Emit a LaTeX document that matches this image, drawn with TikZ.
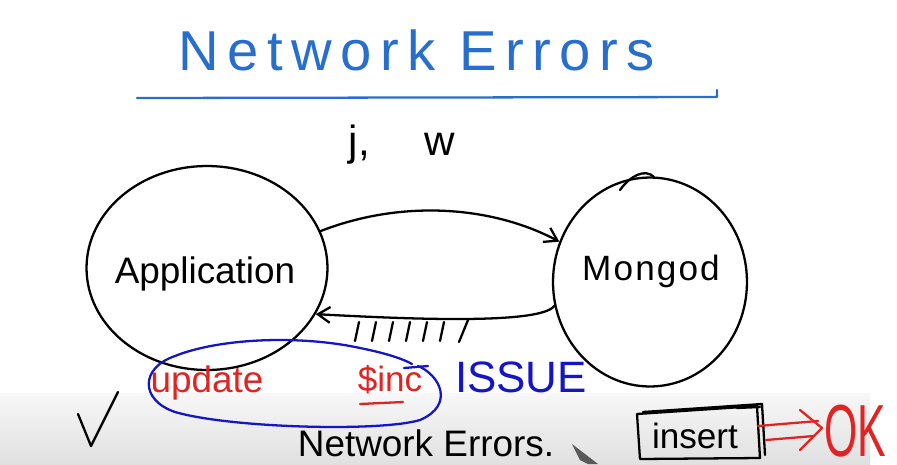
\documentclass[tikz,border=0pt]{standalone}
\usepackage{fontspec}
\setmainfont{Liberation Sans}
\usetikzlibrary{shapes.geometric,arrows.meta}
\definecolor{titleblue}{RGB}{40,110,205}
\definecolor{inkblue}{RGB}{20,20,200}
\definecolor{inkred}{RGB}{225,35,35}
\tikzset{
  ink/.style={line width=1.3pt, line cap=round, line join=round},
  bubble/.style={ellipse, draw, ink, inner sep=0pt},
  hand/.style={inner sep=0pt, anchor=base},
  conn/.style={ink, -{Straight Barb[length=7pt,width=9pt]}},
}
\begin{document}
\begin{tikzpicture}[x=0.02cm,y=-0.02cm]
\useasboundingbox (0,0) rectangle (897,464);
% video overlay band
\shade[top color=gray!6, bottom color=gray!24] (0,393) rectangle (870,464);
% title
\node[hand, text=titleblue, font=\fontsize{32}{36}\selectfont\addfontfeature{LetterSpace=15}] (title) at (417,70) {Network Errors};
\coordinate (ulA) at (137,98);
\coordinate (ulB) at (717,97);
\coordinate (ulC) at (717,90);
\draw[ink, titleblue] (ulA) -- (ulB) -- (ulC);
\node[hand, font=\fontsize{24}{28}\selectfont] (jw) at (402,155) {j,\hspace{1.3em}w};
% nodes
\node[bubble, minimum width=4.82cm, minimum height=4.08cm] (app) at (207,268) {};
\node[hand, font=\fontsize{21}{25}\selectfont] (applabel) at (205,283) {Application};
\node[bubble, minimum width=3.88cm, minimum height=4.18cm] (mongod) at (650,282) {};
\node[hand, font=\fontsize{20}{24}\selectfont\addfontfeature{LetterSpace=6}] (monlabel) at (651,280) {Mongod};
\draw[ink] (620,190) .. controls (630,176) and (645,168) .. (654,177);
% connectors
\draw[conn] (app.18) .. controls (400,200) and (490,205) .. (mongod.156);
\draw[conn] (mongod.194) .. controls (540,326) and (390,318) .. (app.337);
\foreach \hx in {355,372,389,406,423,440} {
  \draw[ink] (\hx,341) -- (\hx+4,322);
}
\draw[ink] (459,342) -- (468,320);
% blue loop
\draw[ink, inkblue] (418,366) .. controls (440,375) and (455,405) .. (420,420)
  .. controls (380,432) and (230,428) .. (175,412)
  .. controls (140,400) and (140,368) .. (175,356)
  .. controls (220,338) and (300,335) .. (360,348)
  .. controls (390,354) and (405,360) .. (412,364);
\draw[ink, inkblue] (404,368) -- (428,366);
\node[hand, text=inkred, font=\fontsize{21}{25}\selectfont] (upd) at (207,392) {update};
\node[hand, text=inkred, font=\fontsize{20}{24}\selectfont] (inc) at (390,391) {\$inc};
\draw[ink, inkred] (360,404) -- (403,402);
\node[hand, text=inkblue, font=\fontsize{25}{30}\selectfont] (issue) at (521,392) {ISSUE};
% check mark
\draw[ink] (78,414) -- (91,446) -- (118,392);
% bottom text
\node[hand, font=\fontsize{21}{25}\selectfont] (neterr) at (426,456) {Network Errors.};
% insert box
\node[hand, font=\fontsize{20}{24}\selectfont] (ins) at (695,448) {insert};
\draw[ink] (637,414) -- (757,406) -- (760,458) -- (640,459) -- cycle;
\draw[ink] (643,412) -- (762,404) -- (765,455);
\draw[ink] (737,408) -- (760,407);
% red arrow to OK
\node[hand, anchor=base west, text=inkred, font=\fontsize{42}{46}\selectfont\addfontfeature{FakeStretch=0.58}] (ok) at (824,456) {OK};
\draw[ink, inkred] (758,426) -- (818,421);
\draw[ink, inkred] (766,440) -- (814,436);
\draw[ink, inkred] (800,410) -- (822,428) -- (800,450);
% mouse pointer
\fill[gray!70!black] (572,444) -- (598,464) -- (588,464) -- (580,460) -- cycle;
\end{tikzpicture}
\end{document}
